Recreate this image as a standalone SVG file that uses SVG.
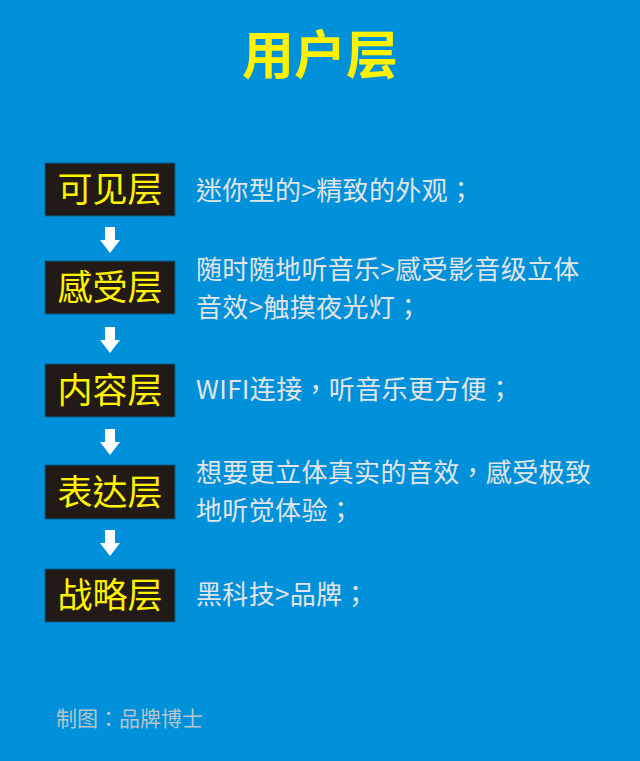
<svg xmlns="http://www.w3.org/2000/svg" width="640" height="761" viewBox="0 0 640 761">
<style>
.box{fill:#211a16;stroke:#0b5f8a;stroke-width:1}
.lbl{font-family:"Noto Sans CJK TC","Noto Sans CJK SC",sans-serif;font-size:35px;fill:#fff200;text-anchor:middle}
.desc{font-family:"Noto Sans CJK TC","Noto Sans CJK SC",sans-serif;font-size:26px;letter-spacing:0.35px;fill:#e2e4e6}
.arr{fill:#ffffff}
</style>
<defs>
<path id="arrow" d="M105,0 H115 V13 H120 L110,26 L100,13 H105 Z"/>
</defs>
<rect width="640" height="761" fill="#0091da"/>
<text x="320" y="74" font-family="'Noto Sans CJK SC','Noto Sans',sans-serif" font-size="52" font-weight="bold" fill="#fff200" text-anchor="middle">用户层</text>
<g id="connectors">
<use href="#arrow" class="arr" x="0" y="227"/>
<use href="#arrow" class="arr" x="0" y="327"/>
<use href="#arrow" class="arr" x="0" y="429"/>
<use href="#arrow" class="arr" x="0" y="530"/>
</g>
<g id="n1">
<rect class="box" x="45" y="163" width="130" height="53"/>
<text class="lbl" x="110" y="202">可见层</text>
<text class="desc" x="196" y="200">迷你型的&gt;精致的外观；</text>
</g>
<g id="n2">
<rect class="box" x="45" y="261" width="130" height="53"/>
<text class="lbl" x="110" y="300">感受层</text>
<text class="desc"><tspan x="196" y="279">随时随地听音乐&gt;感受影音级立体</tspan><tspan x="196" y="317">音效&gt;触摸夜光灯；</tspan></text>
</g>
<g id="n3">
<rect class="box" x="45" y="364" width="130" height="53"/>
<text class="lbl" x="110" y="403">内容层</text>
<text class="desc" x="196" y="399">WIFI连接，听音乐更方便；</text>
</g>
<g id="n4">
<rect class="box" x="45" y="465" width="130" height="54"/>
<text class="lbl" x="110" y="505">表达层</text>
<text class="desc"><tspan x="196" y="482">想要更立体真实的音效，感受极致</tspan><tspan x="196" y="520">地听觉体验；</tspan></text>
</g>
<g id="n5">
<rect class="box" x="45" y="569" width="130" height="53"/>
<text class="lbl" x="110" y="608">战略层</text>
<text class="desc" x="196" y="604">黑科技&gt;品牌；</text>
</g>
<text x="56" y="726" font-family="'Noto Sans CJK TC','Noto Sans CJK SC',sans-serif" font-size="21" fill="#b9c3cc">制图：品牌博士</text>
</svg>
